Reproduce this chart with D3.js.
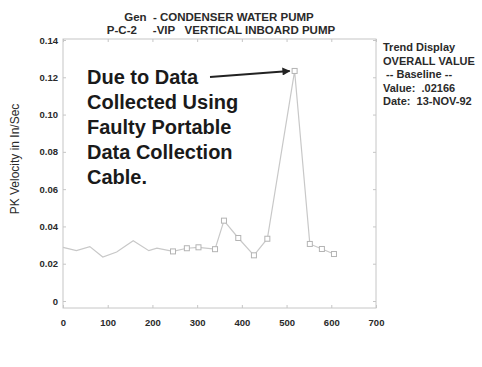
<!DOCTYPE html>
<html>
<head>
<meta charset="utf-8">
<script src="https://cdn.jsdelivr.net/npm/d3@7"></script>
<style>
  body { margin: 0; background: #fff; }
  text { font-family: "Liberation Sans", Arial, sans-serif; }
</style>
</head>
<body>
<script>
// readings (days, PK velocity in/sec)
const days = [0, 30, 60, 89, 120, 157, 192, 210, 246, 277, 303, 340, 360, 392, 427, 457, 518, 552, 579, 606];
const velocity = [0.0288, 0.0270, 0.0292, 0.0236, 0.0263, 0.0323, 0.0270, 0.0283, 0.0266, 0.0283, 0.0288, 0.0278, 0.0431, 0.0338, 0.0245, 0.0334, 0.1234, 0.0306, 0.0279, 0.0252];
const hasMarker = [0, 0, 0, 0, 0, 0, 0, 0, 1, 1, 1, 1, 1, 1, 1, 1, 1, 1, 1, 1];
const xTicks = [0, 100, 200, 300, 400, 500, 600, 700];
const yTicks = [0, 0.02, 0.04, 0.06, 0.08, 0.10, 0.12, 0.14];
const titleLines = ["Gen  - CONDENSER WATER PUMP", "P-C-2     -VIP   VERTICAL INBOARD PUMP"];
const sideLines = ["Trend Display", "OVERALL VALUE", " -- Baseline --", "Value:  .02166", "Date:  13-NOV-92"];
const noteLines = ["Due to Data", "Collected Using", "Faulty Portable", "Data Collection", "Cable."];

const W = 482, H = 367;
const plotL = 63, plotR = 376, plotT = 39, plotB = 308;

const svg = d3.select("body").append("svg")
    .attr("width", W)
    .attr("height", H);

const x = d3.scaleLinear().domain([0, 700]).range([plotL, plotR]);
const y = d3.scaleLinear().domain([0, 0.14]).range([301, 40]);

const frameColor = "#c6c6c6";
const inkColor = "#2a2a2a";

// frame
svg.append("rect")
    .attr("x", plotL).attr("y", plotT)
    .attr("width", plotR - plotL).attr("height", plotB - plotT)
    .attr("fill", "none")
    .attr("stroke", frameColor);

// axes, ticks pointing inwards
const fmtY = d => d === 0 ? "0" : d3.format(".2f")(d);

const axisB = svg.append("g")
    .attr("transform", `translate(0,${plotB})`)
    .call(d3.axisBottom(x).tickValues(xTicks).tickSize(-3).tickPadding(11));
const axisT = svg.append("g")
    .attr("transform", `translate(0,${plotT})`)
    .call(d3.axisTop(x).tickValues(xTicks).tickSize(-3).tickFormat(""));
const axisL = svg.append("g")
    .attr("transform", `translate(${plotL},0)`)
    .call(d3.axisLeft(y).tickValues(yTicks).tickSize(-3).tickPadding(5).tickFormat(fmtY));
const axisR = svg.append("g")
    .attr("transform", `translate(${plotR},0)`)
    .call(d3.axisRight(y).tickValues(yTicks).tickSize(-3).tickFormat(""));

[axisB, axisT, axisL, axisR].forEach(g => {
    g.select(".domain").remove();
    g.selectAll(".tick line").attr("stroke", frameColor);
    g.selectAll(".tick text")
        .attr("fill", inkColor)
        .style("font-size", "9.5px")
        .style("font-weight", "bold");
});

// y label
svg.append("text")
    .attr("transform", `translate(19,159) rotate(-90)`)
    .attr("text-anchor", "middle")
    .attr("fill", inkColor)
    .style("font-size", "12px")
    .text("PK Velocity in In/Sec");

// title
svg.selectAll("text.title")
    .data(titleLines)
    .enter().append("text")
    .attr("class", "title")
    .attr("x", (d, i) => i ? 221 : 219)
    .attr("y", (d, i) => 21 + i * 13)
    .attr("text-anchor", "middle")
    .attr("fill", inkColor)
    .style("font-size", "11.5px")
    .style("font-weight", "bold")
    .style("white-space", "pre")
    .text(d => d);

// side panel
svg.selectAll("text.side")
    .data(sideLines)
    .enter().append("text")
    .attr("class", "side")
    .attr("x", 383)
    .attr("y", (d, i) => 51 + i * 13.5)
    .attr("fill", inkColor)
    .style("font-size", "11px")
    .style("font-weight", "bold")
    .style("white-space", "pre")
    .text(d => d);

// trend line
const pts = days.map((d, i) => ({ x: d, v: velocity[i], m: hasMarker[i] }));
svg.append("path")
    .datum(pts)
    .attr("fill", "none")
    .attr("stroke", "#c8c8c8")
    .attr("stroke-width", 1.2)
    .attr("d", d3.line().x(d => x(d.x)).y(d => y(d.v)));

svg.selectAll("rect.mark")
    .data(pts.filter(d => d.m))
    .enter().append("rect")
    .attr("class", "mark")
    .attr("x", d => x(d.x) - 2.5)
    .attr("y", d => y(d.v) - 2.5)
    .attr("width", 5).attr("height", 5)
    .attr("fill", "#fff")
    .attr("stroke", "#b4b4b4");

// annotation
svg.selectAll("text.note")
    .data(noteLines)
    .enter().append("text")
    .attr("class", "note")
    .attr("x", 87)
    .attr("y", (d, i) => 84 + i * 25)
    .attr("fill", "#1a1a1a")
    .style("font-size", "20px")
    .style("font-weight", "bold")
    .text(d => d);

svg.append("defs").append("marker")
    .attr("id", "head")
    .attr("viewBox", "0 0 10 10")
    .attr("refX", 9).attr("refY", 5)
    .attr("markerWidth", 11).attr("markerHeight", 8)
    .attr("markerUnits", "userSpaceOnUse")
    .attr("orient", "auto")
    .append("path")
    .attr("d", "M0,0L10,5L0,10z")
    .attr("fill", "#222");

const peak = pts[16];
svg.append("line")
    .attr("x1", 210).attr("y1", 77)
    .attr("x2", x(peak.x) - 5).attr("y2", y(peak.v))
    .attr("stroke", "#222")
    .attr("stroke-width", 2)
    .attr("marker-end", "url(#head)");
</script>
</body>
</html>
